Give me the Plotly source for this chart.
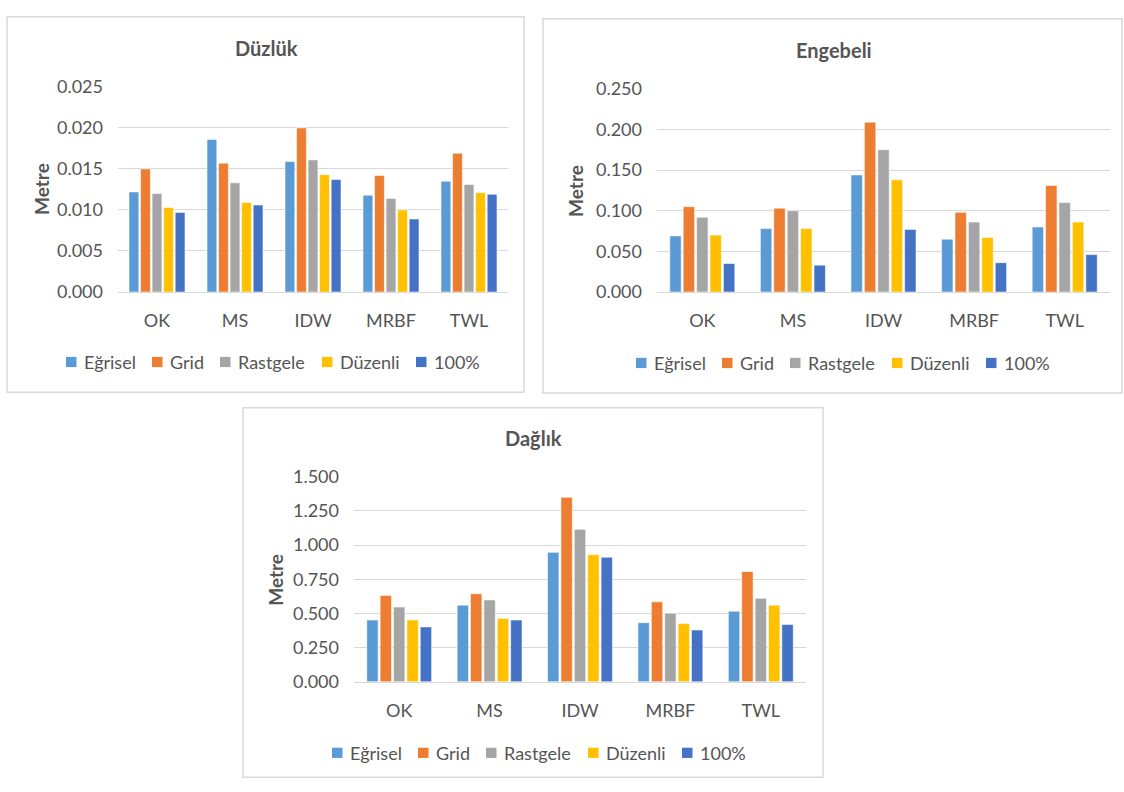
import plotly.graph_objects as go

# ---- data -------------------------------------------------------------
methods = ["OK", "MS", "IDW", "MRBF", "TWL"]
series_names = ["Eğrisel", "Grid", "Rastgele", "Düzenli", "100%"]
series_colors = ["#5B9BD5", "#ED7D31", "#A5A5A5", "#FFC000", "#4472C4"]

# Düzlük (flat terrain)
duzluk_egrisel = [0.0122, 0.0186, 0.0159, 0.0118, 0.0135]
duzluk_grid = [0.0150, 0.0157, 0.0200, 0.0142, 0.0169]
duzluk_rastgele = [0.0120, 0.0133, 0.0161, 0.0114, 0.0131]
duzluk_duzenli = [0.0103, 0.0109, 0.0143, 0.0100, 0.0121]
duzluk_100 = [0.0097, 0.0106, 0.0137, 0.0089, 0.0119]

# Engebeli (rolling terrain)
engebeli_egrisel = [0.069, 0.078, 0.144, 0.065, 0.080]
engebeli_grid = [0.105, 0.103, 0.209, 0.098, 0.131]
engebeli_rastgele = [0.092, 0.100, 0.175, 0.086, 0.110]
engebeli_duzenli = [0.070, 0.078, 0.138, 0.067, 0.086]
engebeli_100 = [0.035, 0.033, 0.077, 0.036, 0.046]

# Dağlık (mountainous terrain)
daglik_egrisel = [0.452, 0.561, 0.947, 0.433, 0.516]
daglik_grid = [0.632, 0.644, 1.349, 0.585, 0.807]
daglik_rastgele = [0.547, 0.599, 1.115, 0.502, 0.611]
daglik_duzenli = [0.452, 0.464, 0.930, 0.426, 0.561]
daglik_100 = [0.402, 0.452, 0.911, 0.379, 0.419]

chart_titles = ["Düzlük", "Engebeli", "Dağlık"]
y_max = [0.025, 0.250, 1.500]
y_step = [0.005, 0.050, 0.250]
axis_title = "Metre"

chart_series = [
    [duzluk_egrisel, duzluk_grid, duzluk_rastgele, duzluk_duzenli, duzluk_100],
    [engebeli_egrisel, engebeli_grid, engebeli_rastgele, engebeli_duzenli, engebeli_100],
    [daglik_egrisel, daglik_grid, daglik_rastgele, daglik_duzenli, daglik_100],
]

# ---- layout geometry (pixels) ------------------------------------------
W, H = 1124, 792
FONT = "Lato"
TEXT = "#555555"
LINE = "#D9D9D9"

panels = [
    dict(box=(7, 5, 524, 391), plot=(118, 77, 508, 288), title=(266, 37),
         ytitle=(42, 182), legend=(66, 360)),
    dict(box=(543, 7, 1122, 392), plot=(657, 79, 1110, 288), title=(834, 39),
         ytitle=(576, 184), legend=(636, 361)),
    dict(box=(243, 407, 823, 787), plot=(354, 478, 806, 689), title=(533, 438),
         ytitle=(276, 584), legend=(332, 762)),
]
legend_offsets = [0, 86, 154, 256, 350]
legend_square = 10.5
legend_text_gap = 16


def px_x(x):
    return x / W


def px_y(y):
    return 1 - y / H


fig = go.Figure()
shapes = []
annotations = []
layout_axes = {}

for i, (p, series) in enumerate(zip(panels, chart_series)):
    n = "" if i == 0 else str(i + 1)
    for name, color, vals in zip(series_names, series_colors, series):
        fig.add_trace(go.Bar(
            x=methods, y=vals, name=name,
            xaxis="x" + n, yaxis="y" + n,
            marker=dict(color=color, line=dict(color="rgba(255,255,255,0.55)", width=1)),
            showlegend=False,
        ))

    x0, y0, x1, y1 = p["plot"]
    layout_axes["xaxis" + n] = dict(
        domain=[px_x(x0), px_x(x1)], anchor="y" + n,
        showgrid=False, showline=True, linecolor=LINE, linewidth=1.3,
        ticks="", ticklabelstandoff=12,
        tickfont=dict(family=FONT, size=18, color=TEXT),
        fixedrange=True,
    )
    layout_axes["yaxis" + n] = dict(
        domain=[px_y(y1), px_y(y0)], anchor="x" + n,
        range=[0, y_max[i]], dtick=y_step[i], tick0=0, tickformat=".3f",
        showgrid=True, gridcolor=LINE, gridwidth=1.3,
        zeroline=False, showline=False, ticks="", ticklabelstandoff=14,
        tickfont=dict(family=FONT, size=18, color=TEXT),
        fixedrange=True,
    )

    # panel frame
    bx0, by0, bx1, by1 = p["box"]
    shapes.append(dict(type="rect", xref="paper", yref="paper",
                       x0=px_x(bx0), x1=px_x(bx1), y0=px_y(by1), y1=px_y(by0),
                       line=dict(color=LINE, width=1.5), fillcolor="rgba(0,0,0,0)",
                       layer="below"))

    # chart title
    tx, ty = p["title"]
    annotations.append(dict(text=chart_titles[i], xref="paper", yref="paper",
                            x=px_x(tx), y=px_y(ty), xanchor="center", yanchor="middle",
                            showarrow=False,
                            font=dict(family=FONT, size=20, color=TEXT, weight="bold")))

    # vertical axis title
    mx, my = p["ytitle"]
    annotations.append(dict(text=axis_title, xref="paper", yref="paper",
                            x=px_x(mx), y=px_y(my), xanchor="center", yanchor="middle",
                            textangle=-90, showarrow=False,
                            font=dict(family=FONT, size=19, color=TEXT, weight="bold")))

    # legend row
    lx, ly = p["legend"]
    for off, name, color in zip(legend_offsets, series_names, series_colors):
        sx = lx + off
        shapes.append(dict(type="rect", xref="paper", yref="paper",
                           x0=px_x(sx), x1=px_x(sx + legend_square),
                           y0=px_y(ly + legend_square / 2), y1=px_y(ly - legend_square / 2),
                           line=dict(width=0), fillcolor=color))
        annotations.append(dict(text=name, xref="paper", yref="paper",
                                x=px_x(sx + legend_text_gap), y=px_y(ly),
                                xanchor="left", yanchor="middle", showarrow=False,
                                font=dict(family=FONT, size=18, color=TEXT)))

fig.update_layout(
    width=W, height=H,
    margin=dict(l=0, r=0, t=0, b=0),
    paper_bgcolor="white", plot_bgcolor="white",
    barmode="group", bargap=0.26, bargroupgap=0.15,
    shapes=shapes, annotations=annotations,
    font=dict(family=FONT, color=TEXT),
    **layout_axes,
)

fig.write_html("out.html")
